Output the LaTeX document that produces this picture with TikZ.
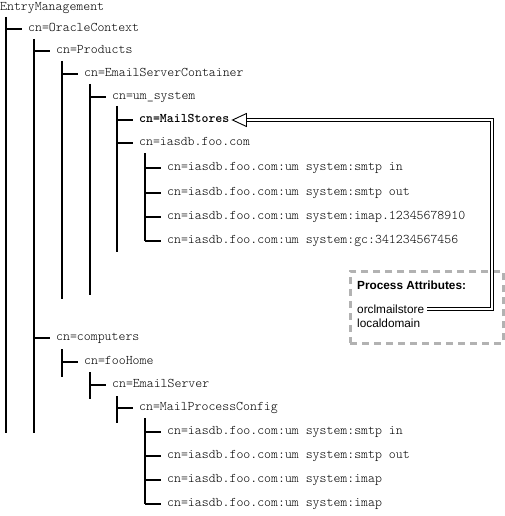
\documentclass[tikz,border=0pt]{standalone}
\usepackage{fontspec}
\setmainfont{Liberation Sans}
\definecolor{boxgray}{gray}{0.7}
\begin{document}
\begin{tikzpicture}[x=1pt,y=-1pt,
  tn/.style={anchor=west, inner sep=0pt, font=\ttfamily\fontseries{l}\fontsize{13.2}{15}\selectfont, text height=8pt, text depth=2.5pt},
  tb/.style={tn, font=\ttfamily\bfseries\fontsize{13.2}{15}\selectfont},
  tline/.style={line width=1.3pt},
  pbox/.style={draw=boxgray, line width=2.5pt, dash pattern=on 7pt off 5pt, inner sep=0pt, minimum width=153pt, minimum height=72pt, anchor=north west},
  ptxt/.style={anchor=west, inner sep=0pt, font=\fontsize{11.8}{14}\selectfont},
  dbl/.style={draw=black, double=white, double distance=2.2pt, line width=0.9pt, line join=miter}
]
\useasboundingbox (0,0) rectangle (504,516);
% nodes of the upper tree
\node[tn] (em) at (0,8) {EntryManagement};
\node[tn] (oc) at (28,29) {cn=OracleContext};
\node[tn] (pr) at (56,51) {cn=Products};
\node[tn] (esc) at (84,74) {cn=EmailServerContainer};
\node[tn] (ums) at (112,97) {cn=um\_system};
\node[tb] (ms) at (139,120) {cn=MailStores};
\node[tn] (ias) at (139,143) {cn=iasdb.foo.com};
\node[tn] (a1) at (167,168) {cn=iasdb.foo.com:um system:smtp in};
\node[tn] (a2) at (167,193) {cn=iasdb.foo.com:um system:smtp out};
\node[tn] (a3) at (167,217) {cn=iasdb.foo.com:um system:imap.12345678910};
\node[tn] (a4) at (167,241) {cn=iasdb.foo.com:um system:gc:341234567456};
% nodes of the lower tree
\node[tn] (cp) at (56,338) {cn=computers};
\node[tn] (fh) at (84,362) {cn=fooHome};
\node[tn] (es) at (112,385) {cn=EmailServer};
\node[tn] (mpc) at (139,408) {cn=MailProcessConfig};
\node[tn] (b1) at (167,432) {cn=iasdb.foo.com:um system:smtp in};
\node[tn] (b2) at (167,456) {cn=iasdb.foo.com:um system:smtp out};
\node[tn] (b3) at (167,480) {cn=iasdb.foo.com:um system:imap};
\node[tn] (b4) at (167,504) {cn=iasdb.foo.com:um system:imap};
% vertical line ends
\coordinate (v0t) at (6,17);   \coordinate (v0b) at (6,433);
\coordinate (v1t) at (34,39);  \coordinate (v1b) at (34,433);
\coordinate (v2t) at (62,61);  \coordinate (v2b) at (62,299);
\coordinate (v3t) at (90,84);  \coordinate (v3b) at (90,295);
\coordinate (v4t) at (117,106); \coordinate (v4b) at (117,252);
\coordinate (v5t) at (145,153);
\coordinate (w2t) at (62,349); \coordinate (w2b) at (62,377);
\coordinate (w3t) at (90,372); \coordinate (w3b) at (90,399);
\coordinate (w4t) at (117,396); \coordinate (w4b) at (117,423);
\coordinate (w5t) at (145,418);
% verticals
\draw[tline] (v0t) -- (v0b);
\draw[tline] (v1t) -- (v1b);
\draw[tline] (v2t) -- (v2b);
\draw[tline] (v3t) -- (v3b);
\draw[tline] (v4t) -- (v4b);
\draw[tline] (v5t) -- (v5t |- a4.west);
\draw[tline] (w2t) -- (w2b);
\draw[tline] (w3t) -- (w3b);
\draw[tline] (w4t) -- (w4b);
\draw[tline] (w5t) -- (w5t |- b4.west);
% branches
\draw[tline] (v0t |- oc.west) -- ([xshift=-6pt]oc.west);
\draw[tline] (v1t |- pr.west) -- ([xshift=-6pt]pr.west);
\draw[tline] (v2t |- esc.west) -- ([xshift=-6pt]esc.west);
\draw[tline] (v3t |- ums.west) -- ([xshift=-6pt]ums.west);
\draw[tline] (v4t |- ms.west) -- ([xshift=-6pt]ms.west);
\draw[tline] (v4t |- ias.west) -- ([xshift=-6pt]ias.west);
\foreach \n in {a1,a2,a3,a4} \draw[tline] (v5t |- \n.west) -- ([xshift=-6pt]\n.west);
\draw[tline] (v1t |- cp.west) -- ([xshift=-6pt]cp.west);
\draw[tline] (w2t |- fh.west) -- ([xshift=-6pt]fh.west);
\draw[tline] (w3t |- es.west) -- ([xshift=-6pt]es.west);
\draw[tline] (w4t |- mpc.west) -- ([xshift=-6pt]mpc.west);
\foreach \n in {b1,b2,b3,b4} \draw[tline] (w5t |- \n.west) -- ([xshift=-6pt]\n.west);
% process attributes box
\node[pbox] (box) at (349,270) {};
\node[ptxt, font=\bfseries\fontsize{11.8}{14}\selectfont] (pa) at (357,285) {Process Attributes:};
\node[ptxt] (orcl) at (357,309) {orclmailstore};
\node[ptxt] (ld) at (357,323) {localdomain};
% double-line connector with open triangle
\coordinate (c1) at (492,0);
\draw[dbl] ([xshift=3pt]orcl.east) -- (c1 |- orcl.east) -- (c1 |- ms.east) -- ([xshift=17pt]ms.east);
\draw[line width=0.9pt, fill=white, line join=miter] ([xshift=3pt]ms.east) -- ++(14,6.5) -- ++(0,-13) -- cycle;
\end{tikzpicture}
\end{document}
